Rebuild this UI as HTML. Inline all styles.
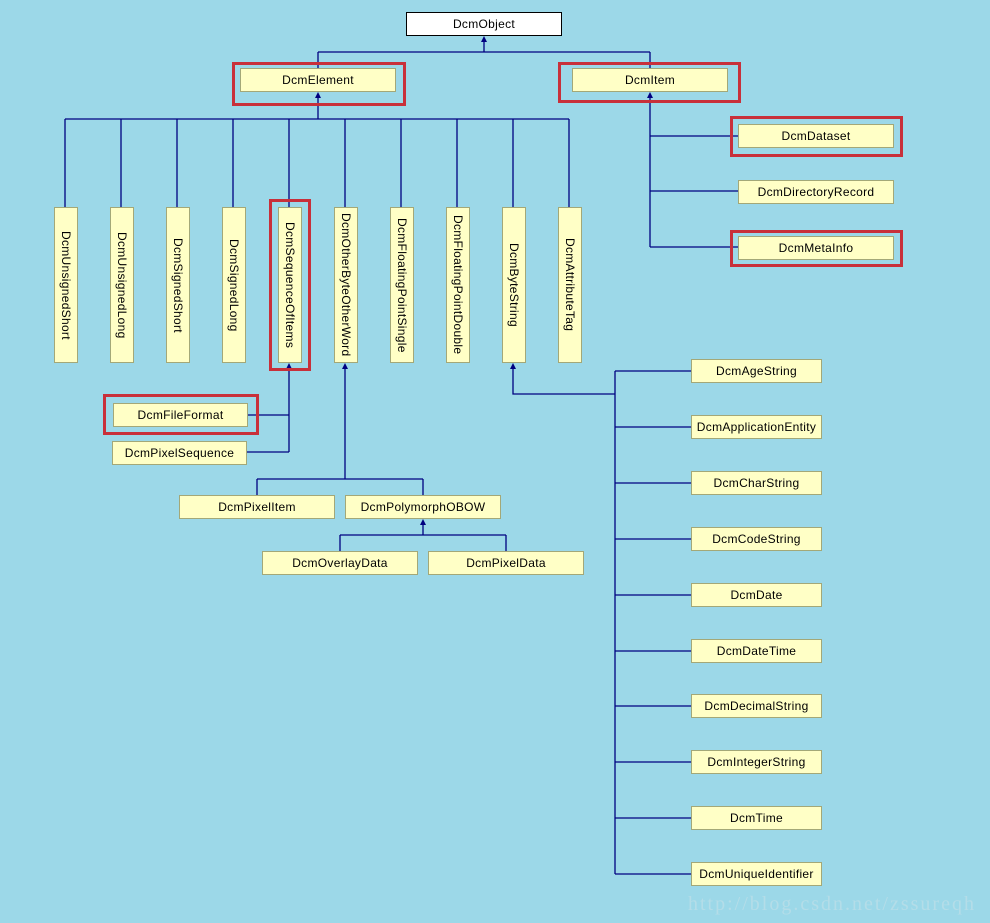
<!DOCTYPE html>
<html><head><meta charset="utf-8"><style>
body{margin:0;width:990px;height:923px;background:#9cd8e8;position:relative;overflow:hidden;font-family:"Liberation Sans",Arial,sans-serif;}
.b{position:absolute;background:#ffffc6;border:1px solid #a3a878;box-sizing:border-box;font-size:12px;color:#000;text-align:center;letter-spacing:0.3px;}
.h{height:24px;line-height:22px;}
.v{width:24px;top:207px;height:156px;writing-mode:vertical-rl;line-height:22px;text-align:center;}
.r{position:absolute;border:3px solid #c8303a;box-sizing:border-box;}
svg{position:absolute;left:0;top:0;}
.wm{position:absolute;left:688px;top:893px;font-family:"Liberation Serif",serif;font-size:20px;color:#b4dde8;letter-spacing:2px;}
</style></head><body>
<svg width="990" height="923" stroke="#000080" stroke-width="1.3" fill="none">
<path d="M484 38V52M318 52H650M318 52V68M650 52V68"/>
<path d="M318 94V119M65 119H569M65 119V207M121 119V207M177 119V207M233 119V207M289 119V207M345 119V207M401 119V207M457 119V207M513 119V207M569 119V207"/>
<path d="M650 94V247M650 136H738M650 191H738M650 247H738"/>
<path d="M289 365V452M247 415H289M246 452H289"/>
<path d="M345 365V479M257 479H423M257 479V495M423 479V495"/>
<path d="M423 521V535M340 535H506M340 535V551M506 535V551"/>
<path d="M513 365V394H615M615 371V874M615 371H691M615 427H691M615 483H691M615 539H691M615 595H691M615 651H691M615 706H691M615 762H691M615 818H691M615 874H691"/>
<g fill="#000080" stroke="none">
<path d="M484 36l-3 6h6z"/><path d="M318 92l-3 6h6z"/><path d="M650 92l-3 6h6z"/>
<path d="M289 363l-3 6h6z"/><path d="M345 363l-3 6h6z"/><path d="M513 363l-3 6h6z"/><path d="M423 519l-3 6h6z"/>
</g>
</svg>
<div class="b h" style="left:406px;top:12px;width:156px;background:#fff;border-color:#000;">DcmObject</div>
<div class="b h" style="left:240px;top:68px;width:156px;">DcmElement</div>
<div class="b h" style="left:572px;top:68px;width:156px;">DcmItem</div>
<div class="r" style="left:232px;top:62px;width:174px;height:44px;"></div>
<div class="r" style="left:558px;top:62px;width:183px;height:41px;"></div>
<div class="b h" style="left:738px;top:124px;width:156px;">DcmDataset</div>
<div class="b h" style="left:738px;top:180px;width:156px;">DcmDirectoryRecord</div>
<div class="b h" style="left:738px;top:236px;width:156px;">DcmMetaInfo</div>
<div class="r" style="left:730px;top:116px;width:173px;height:41px;"></div>
<div class="r" style="left:730px;top:230px;width:173px;height:37px;"></div>
<div class="b v" style="left:54px;">DcmUnsignedShort</div>
<div class="b v" style="left:110px;">DcmUnsignedLong</div>
<div class="b v" style="left:166px;">DcmSignedShort</div>
<div class="b v" style="left:222px;">DcmSignedLong</div>
<div class="b v" style="left:278px;">DcmSequenceOfItems</div>
<div class="b v" style="left:334px;">DcmOtherByteOtherWord</div>
<div class="b v" style="left:390px;">DcmFloatingPointSingle</div>
<div class="b v" style="left:446px;">DcmFloatingPointDouble</div>
<div class="b v" style="left:502px;">DcmByteString</div>
<div class="b v" style="left:558px;">DcmAttributeTag</div>
<div class="r" style="left:269px;top:199px;width:42px;height:172px;"></div>
<div class="b h" style="left:113px;top:403px;width:135px;">DcmFileFormat</div>
<div class="b h" style="left:112px;top:441px;width:135px;">DcmPixelSequence</div>
<div class="r" style="left:103px;top:394px;width:156px;height:41px;"></div>
<div class="b h" style="left:179px;top:495px;width:156px;">DcmPixelItem</div>
<div class="b h" style="left:345px;top:495px;width:156px;">DcmPolymorphOBOW</div>
<div class="b h" style="left:262px;top:551px;width:156px;">DcmOverlayData</div>
<div class="b h" style="left:428px;top:551px;width:156px;">DcmPixelData</div>
<div class="b h" style="left:691px;top:359px;width:131px;">DcmAgeString</div>
<div class="b h" style="left:691px;top:415px;width:131px;">DcmApplicationEntity</div>
<div class="b h" style="left:691px;top:471px;width:131px;">DcmCharString</div>
<div class="b h" style="left:691px;top:527px;width:131px;">DcmCodeString</div>
<div class="b h" style="left:691px;top:583px;width:131px;">DcmDate</div>
<div class="b h" style="left:691px;top:639px;width:131px;">DcmDateTime</div>
<div class="b h" style="left:691px;top:694px;width:131px;">DcmDecimalString</div>
<div class="b h" style="left:691px;top:750px;width:131px;">DcmIntegerString</div>
<div class="b h" style="left:691px;top:806px;width:131px;">DcmTime</div>
<div class="b h" style="left:691px;top:862px;width:131px;">DcmUniqueIdentifier</div>
<div class="wm">http://blog.csdn.net/zssureqh</div>
</body></html>
